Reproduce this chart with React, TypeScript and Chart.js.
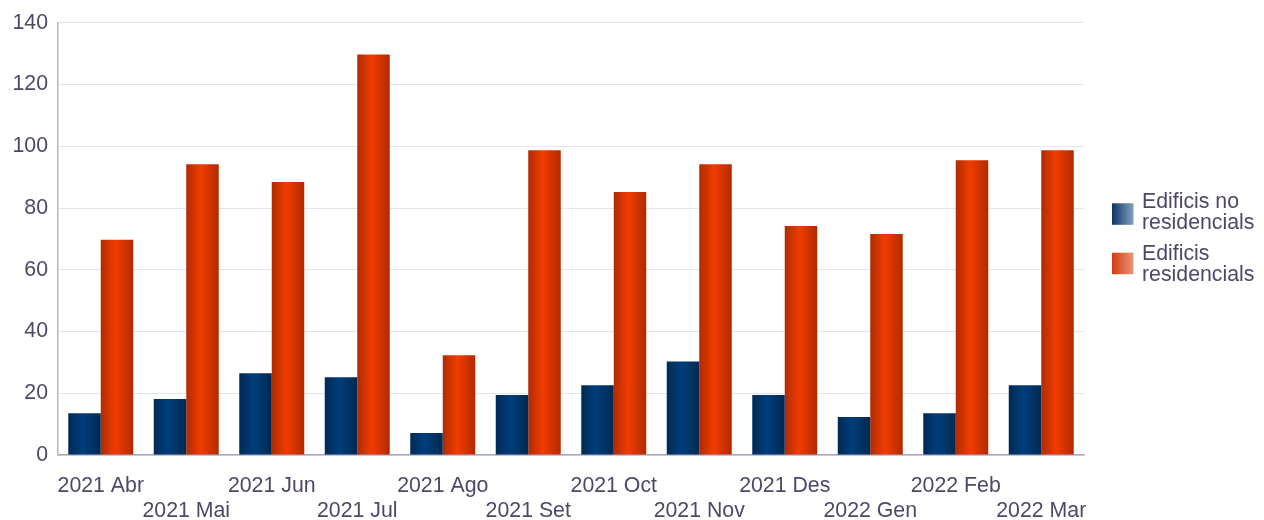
import React, { useEffect, useRef } from "react";
import { Chart, registerables } from "chart.js";

Chart.register(...registerables);

const categories = [
  "2021 Abr", "2021 Mai", "2021 Jun", "2021 Jul", "2021 Ago", "2021 Set",
  "2021 Oct", "2021 Nov", "2021 Des", "2022 Gen", "2022 Feb", "2022 Mar",
];
const nonResidential = [13.5, 18.1, 26.5, 25.2, 7.1, 19.4, 22.6, 30.3, 19.4, 12.3, 13.5, 22.6];
const residential = [69.7, 94.2, 88.4, 129.7, 32.3, 98.7, 85.2, 94.2, 74.2, 71.6, 95.5, 98.7];
const seriesNames = [["Edificis no", "residencials"], ["Edificis", "residencials"]];
const yMin = 0;
const yMax = 140;
const yStep = 20;

const FONT = "'Liberation Sans', Arial, sans-serif";
const FONT_SIZE = 21.3;
const TEXT = "#4a4a68";
const CAT_PCT = 0.76;

const barStops = [
  ["#002a55", "#003e7c", "#00294f"],
  ["#b02c00", "#f03c00", "#b22a00"],
];
const legendStops = [
  ["#0b3566", "#84a0bb"],
  ["#d33a10", "#ea9678"],
];

function barGradient(ctx: any) {
  const ds = ctx.datasetIndex ?? 0;
  const stops = barStops[ds];
  if (ctx.type !== "data") return stops[1];
  const chart = ctx.chart;
  const xs = chart.scales && chart.scales.x;
  if (!xs || !chart.chartArea) return stops[1];
  const center = xs.getPixelForTick(ctx.dataIndex);
  const size = xs.width / categories.length;
  const chunk = (size * CAT_PCT) / 2;
  const start = center - (size * CAT_PCT) / 2 + chunk * ds;
  const g = chart.ctx.createLinearGradient(start, 0, start + chunk, 0);
  g.addColorStop(0, stops[0]);
  g.addColorStop(0.45, stops[1]);
  g.addColorStop(1, stops[2]);
  return g;
}

const legendPlugin = {
  id: "customLegend",
  afterDraw(chart: any) {
    const c = chart.ctx;
    c.save();
    const boxX = 1112;
    const boxSize = 21.5;
    const textX = 1142;
    const itemTops = [203.3, 252.7];
    const firstBaselines = [208.3, 260];
    const lineGap = 20.8;
    c.font = `${FONT_SIZE}px ${FONT}`;
    c.fillStyle = TEXT;
    c.textAlign = "left";
    c.textBaseline = "alphabetic";
    seriesNames.forEach((lines, i) => {
      const g = c.createLinearGradient(boxX, 0, boxX + boxSize, 0);
      g.addColorStop(0, legendStops[i][0]);
      g.addColorStop(1, legendStops[i][1]);
      c.fillStyle = g;
      c.fillRect(boxX, itemTops[i], boxSize, boxSize);
      c.fillStyle = TEXT;
      lines.forEach((ln, j) => {
        c.fillText(ln, textX, firstBaselines[i] + j * lineGap);
      });
    });
    c.restore();
  },
};

export default function App() {
  const ref = useRef<HTMLCanvasElement | null>(null);
  useEffect(() => {
    if (!ref.current) return;
    const chart = new Chart(ref.current, {
      type: "bar",
      data: {
        labels: categories,
        datasets: [
          {
            label: seriesNames[0].join(" "),
            data: nonResidential,
            backgroundColor: barGradient,
            borderWidth: 0,
            categoryPercentage: CAT_PCT,
            barPercentage: 1,
          },
          {
            label: seriesNames[1].join(" "),
            data: residential,
            backgroundColor: barGradient,
            borderWidth: 0,
            categoryPercentage: CAT_PCT,
            barPercentage: 1,
          },
        ],
      },
      options: {
        animation: false,
        responsive: false,
        maintainAspectRatio: false,
        layout: { padding: { top: 21, right: 180, bottom: 0, left: 0 } },
        plugins: {
          legend: { display: false },
          tooltip: { enabled: false },
          title: { display: false },
        },
        scales: {
          x: {
            grid: { display: false, drawTicks: false },
            border: { display: true, color: "#a8a8c0", width: 1.5 },
            ticks: {
              autoSkip: false,
              maxRotation: 0,
              minRotation: 0,
              padding: 19,
              color: TEXT,
              font: { family: FONT, size: FONT_SIZE, lineHeight: 1.15 },
              callback: (_v: any, i: number) =>
                i % 2 === 0 ? categories[i] : ["", categories[i]],
            },
            afterFit: (s: any) => {
              s.height = 65;
            },
          },
          y: {
            min: yMin,
            max: yMax,
            grid: { color: "#e4e4ee", lineWidth: 1, drawTicks: false },
            border: { display: true, color: "#b8b8cc", width: 1.5 },
            ticks: {
              stepSize: yStep,
              padding: 10,
              color: TEXT,
              font: { family: FONT, size: FONT_SIZE },
            },
            afterFit: (s: any) => {
              s.width = 58;
            },
          },
        },
      },
      plugins: [legendPlugin],
    });
    return () => chart.destroy();
  }, []);
  return (
    <div style={{ position: "fixed", left: 0, top: 0, width: 1264, height: 520, background: "#fff" }}>
      <canvas ref={ref} width={1264} height={520} style={{ width: 1264, height: 520, display: "block" }} />
    </div>
  );
}
